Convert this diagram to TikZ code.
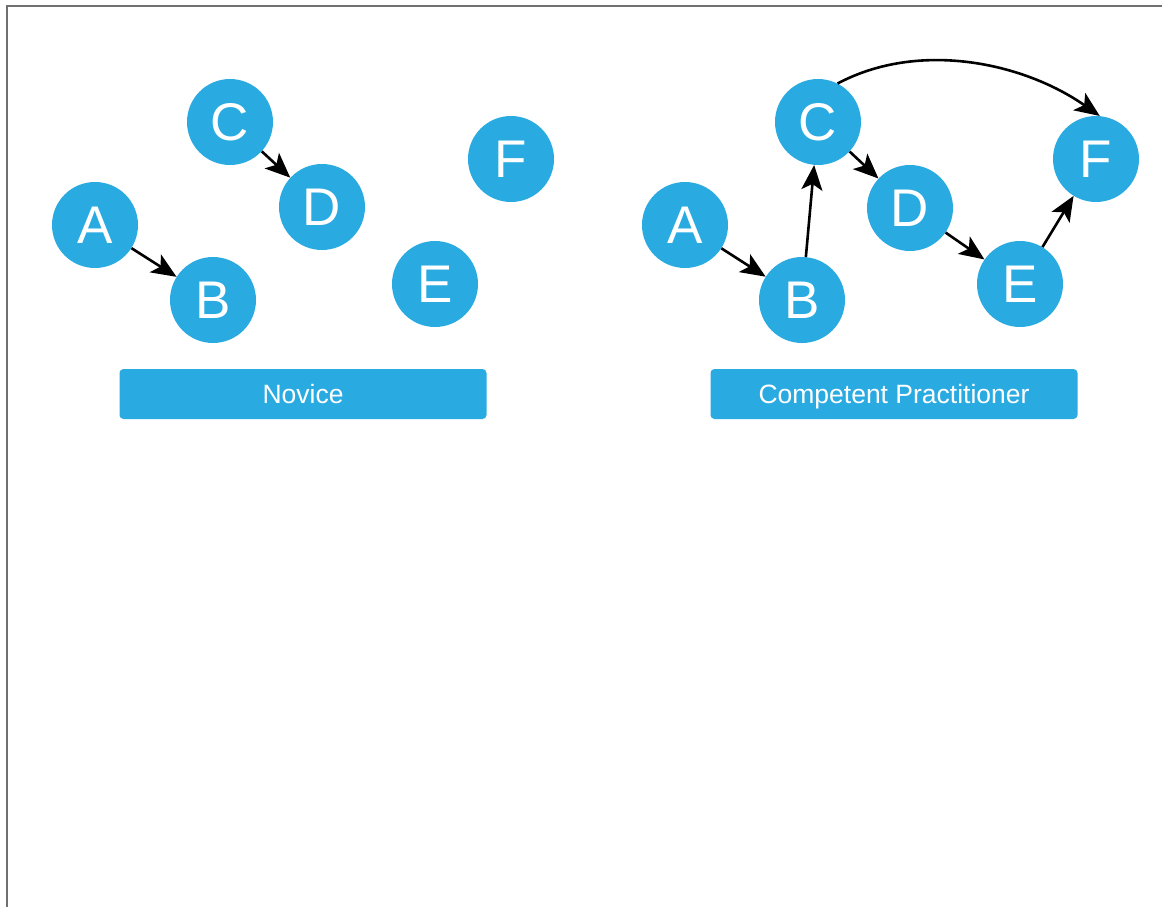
\documentclass[tikz,border=0pt]{standalone}
\usepackage{fontspec}
\setmainfont{Liberation Sans}
\usetikzlibrary{arrows.meta}
\definecolor{conceptblue}{HTML}{29ABE2}
\definecolor{framegray}{HTML}{707070}
\tikzset{
  concept/.style={circle, fill=conceptblue, draw=none, minimum size=86pt, inner sep=0pt,
    text=white, font=\fontsize{53pt}{53pt}\selectfont},
  stagebox/.style={rectangle, rounded corners=4pt, fill=conceptblue, draw=none,
    minimum width=367pt, minimum height=50pt, inner sep=0pt, text=white,
    text height=19pt, text depth=0pt, font=\fontsize{26.5pt}{26.5pt}\selectfont},
  link/.style={draw=black, line width=2.6pt,
    -{Stealth[length=25pt, width=21pt, inset=6pt]}},
}
\begin{document}
\begin{tikzpicture}[x=1pt, y=1pt]
  \useasboundingbox (0,0) rectangle (1162,-907);
  % frame along the top and left edges
  \draw[framegray, line width=1.5pt] (7,-907) -- (7,-6) -- (1162,-6);

  % novice: scattered concepts
  \node[concept] (nA) at (95,-225) {A};
  \node[concept] (nB) at (213,-300) {B};
  \node[concept] (nC) at (230,-122) {C};
  \node[concept] (nD) at (322,-207) {D};
  \node[concept] (nE) at (435,-284) {E};
  \node[concept] (nF) at (511,-159) {F};
  \draw[link] (nA) -- (nB);
  \draw[link] (nC) -- (nD);
  \node[stagebox] (novice) at (303,-394) {Novice};

  % competent practitioner: connected concepts
  \node[concept] (pA) at (685,-225) {A};
  \node[concept] (pB) at (802,-300) {B};
  \node[concept] (pC) at (818,-122) {C};
  \node[concept] (pD) at (910,-208) {D};
  \node[concept] (pE) at (1020,-284) {E};
  \node[concept] (pF) at (1096,-159) {F};
  \draw[link] (pA) -- (pB);
  \draw[link] (pB) -- (pC);
  \draw[link] (pC) -- (pD);
  \draw[link] (pD) -- (pE);
  \draw[link] (pE) -- (pF);
  \draw[link] (pC.63) to[out=28, in=145, looseness=0.9] (pF.85);
  \node[stagebox] (competent) at (894,-394) {Competent Practitioner};
\end{tikzpicture}
\end{document}
